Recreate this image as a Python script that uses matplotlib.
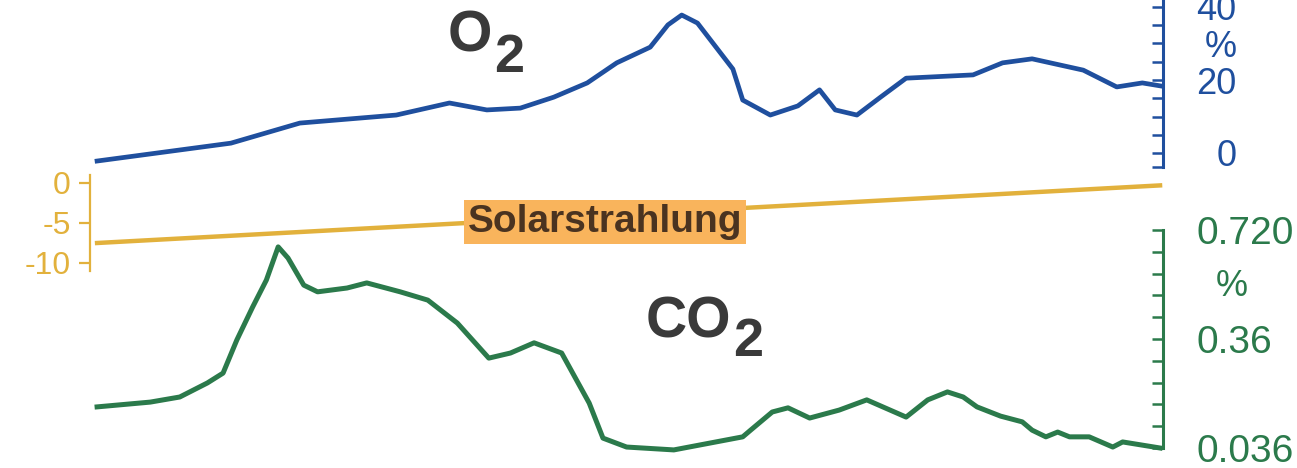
import numpy as np
import matplotlib.pyplot as plt

plt.rcParams['font.family'] = ['Liberation Sans', 'DejaVu Sans']
plt.rcParams['axes.unicode_minus'] = False

# ages in million years before present
o2_age = [540, 472, 437, 388, 361, 342, 325, 308, 291, 276, 259, 250, 243, 235,
          217, 212, 198, 184, 173, 165, 154, 142, 129, 95, 80, 65, 39, 22, 9, 0]
o2_val = [-2.2, 2.7, 8.2, 10.4, 13.7, 11.8, 12.3, 15.3, 19.2, 24.7, 29.0, 35.1, 37.8, 35.6,
          23.0, 14.5, 10.4, 12.9, 17.3, 11.8, 10.4, 15.3, 20.5, 21.4, 24.7, 25.8, 22.7, 18.1, 19.2, 18.4]

co2_age = [540, 513, 498, 484, 476, 469, 461, 454, 448, 443, 435, 428, 413, 403, 386,
           372, 357, 341, 330, 318, 304, 290, 283, 271, 247, 212, 208, 197, 189, 178,
           163, 149, 129, 118, 108, 100, 93, 81, 70, 65, 58, 52, 46, 36, 24, 19, 9, 0]
co2_val = [0.165, 0.180, 0.196, 0.240, 0.271, 0.375, 0.478, 0.563, 0.667, 0.632, 0.547,
           0.526, 0.538, 0.554, 0.526, 0.500, 0.428, 0.318, 0.334, 0.366, 0.334, 0.177,
           0.067, 0.039, 0.030, 0.071, 0.092, 0.149, 0.162, 0.130, 0.155, 0.187, 0.133,
           0.187, 0.212, 0.196, 0.165, 0.136, 0.118, 0.092, 0.071, 0.086, 0.071, 0.071,
           0.039, 0.055, 0.045, 0.036]

sun_age = [540, 0]
sun_val = [-7.5, -0.3]

o2_ticks = [-3.8, 0, 5, 10, 15, 20, 25, 30, 35, 40]
o2_labels = ['', '0', '', '', '', '20', '', '%', '', '40']
sun_ticks = [0, -5, -10]
co2_ticks = list(np.linspace(0.036, 0.72, 11))
co2_labels = ['0.036', '', '', '', '', '0.36', '', '', '', '', '0.720']

BLUE = '#1f4f9e'
GREEN = '#2b7a4b'
GOLD = '#e2b13c'
DARK = '#3a3a3a'

W, H = 1297, 468
fig = plt.figure(figsize=(W / 100, H / 100), dpi=100)
fig.patch.set_facecolor('white')

xl, xr = 90, 1163
xlim = (543.6, -1.5)


def rect(v0, p0, v1, p1, lo, hi):
    s = (p0 - p1) / (v1 - v0)
    top = p0 - (hi - v0) * s
    bot = p0 + (v0 - lo) * s
    return [xl / W, 1 - bot / H, (xr - xl) / W, (bot - top) / H]


ax_o2 = fig.add_axes(rect(0, 153, 20, 80, -5, 42))
ax_sun = fig.add_axes(rect(0, 183, -5, 223, -12, 2))
ax_co2 = fig.add_axes(rect(0.036, 448, 0.72, 230, 0.0, 0.8))

for ax in (ax_o2, ax_sun, ax_co2):
    ax.set_facecolor('none')
    ax.set_xlim(xlim)
    ax.set_xticks([])
    for sp in ax.spines.values():
        sp.set_visible(False)

ax_o2.set_ylim(-5, 42)
ax_sun.set_ylim(-12, 2)
ax_co2.set_ylim(0.0, 0.8)

# O2
ax_o2.plot(o2_age, o2_val, color=BLUE, lw=3.4, solid_joinstyle='round')
ax_o2.yaxis.tick_right()
ax_o2.spines['right'].set_visible(True)
ax_o2.spines['right'].set_color(BLUE)
ax_o2.spines['right'].set_linewidth(2.2)
ax_o2.spines['right'].set_bounds(-3.8, 45)
ax_o2.set_yticks(o2_ticks)
ax_o2.set_yticklabels(o2_labels)
ax_o2.tick_params(axis='y', direction='in', length=8, width=1.8, color=BLUE,
                  labelcolor=BLUE, labelsize=26, pad=53)
for t in ax_o2.get_yticklabels():
    t.set_horizontalalignment('right')

# solar
ax_sun.plot(sun_age, sun_val, color=GOLD, lw=3.2)
ax_sun.spines['left'].set_visible(True)
ax_sun.spines['left'].set_color(GOLD)
ax_sun.spines['left'].set_linewidth(1.6)
ax_sun.spines['left'].set_bounds(-11, 1)
ax_sun.set_yticks(sun_ticks)
ax_sun.tick_params(axis='y', direction='out', length=8, width=1.6, color=GOLD,
                   labelcolor=GOLD, labelsize=23, pad=6)
ax_sun.text(605 / W, 1 - 222 / H, 'Solarstrahlung', transform=fig.transFigure,
            ha='center', va='center', fontsize=28, fontweight='bold', color='#4a3320',
            bbox=dict(boxstyle='square,pad=0.1', facecolor='#f9b45c', edgecolor='none'))

# CO2
ax_co2.plot(co2_age, co2_val, color=GREEN, lw=3.6, solid_joinstyle='round')
ax_co2.yaxis.tick_right()
ax_co2.spines['right'].set_visible(True)
ax_co2.spines['right'].set_color(GREEN)
ax_co2.spines['right'].set_linewidth(2.2)
ax_co2.spines['right'].set_bounds(0.036, 0.72)
ax_co2.set_yticks(co2_ticks)
ax_co2.set_yticklabels(co2_labels)
ax_co2.tick_params(axis='y', direction='in', length=8, width=1.8, color=GREEN,
                   labelcolor=GREEN, labelsize=28, pad=24)
ax_co2.text(1232 / W, 1 - 287 / H, '%', transform=fig.transFigure, ha='center',
            va='center', fontsize=26, color=GREEN)

# labels
fig.text(470 / W, 1 - 36 / H, 'O', ha='center', va='center', fontsize=41,
         fontweight='bold', color=DARK)
fig.text(509 / W, 1 - 58 / H, '2', ha='center', va='center', fontsize=39,
         fontweight='bold', color=DARK)
fig.text(688 / W, 1 - 322 / H, 'CO', ha='center', va='center', fontsize=41,
         fontweight='bold', color=DARK)
fig.text(748 / W, 1 - 342 / H, '2', ha='center', va='center', fontsize=39,
         fontweight='bold', color=DARK)

fig.savefig('out.png', dpi=100, facecolor='white')
